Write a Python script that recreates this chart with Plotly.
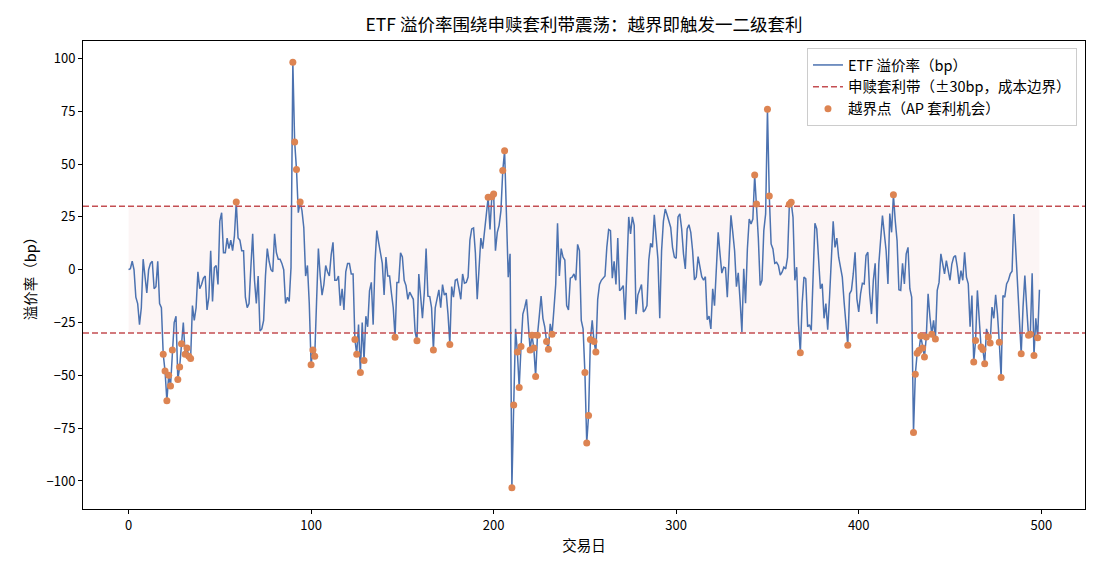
import plotly.graph_objects as go

premium_bp = [
    0, 0.5, 4, 0, -13, -16, -26, -18, 5, -3,
    -11, 0, 3, 4, -9, -8, 4, -16, -18, -40,
    -48, -62, -50, -55, -38, -25, -22, -52, -46, -35,
    -25, -40, -37, -41, -42, -17, -24, -18, -1, -9,
    -7, -4, -3, -19, -13, 9, -15, 1, 2, -7,
    23, 27, 8, 8, 15, 10, 14, 9, 16, 32,
    15, 14, 9, 9, -13, -18, -16, 1, 17, -5,
    -16, -3, -29, -28, -24, -3, 10, 4, 0, -1,
    17, 8, 5, 5, 3, 0, -16, -13, -15, 1,
    98.2, 60.5, 47.5, 27, 32, 28, 20, -3, 2, -16,
    -45, -38, -41, -15, 10, -3, -12, -7, 2, -1,
    -3, 7, 13, -5, -5, -3, -17, -9, -19, -1,
    3, 3, -2, -2, -33, -40, -26, -48.6, -25, -43,
    -22, -27, -10, -6, -26, 3, 18.5, 13, 7, 3,
    -12, 6, -3, -3, -11, -18, -32, -6, -6, 8,
    6, -5, -7.5, -14, -10.6, -12.7, -14, -29.5, -33.6, -2,
    -13, -23, -11, 10, -12.5, -12.7, -18, -38, -18, -14,
    -9.5, -18, -7, -12, -11, -21, -35.4, -8, -13, -5,
    -4.5, -9, -14, -2, -6.4, -6, -3.5, 14, 19.3, 19.8,
    8, -14, 3, 15, 10, 18.5, 26, 34.3, 19, 34.5,
    35.8, 9, 17.7, 21, 28, 47, 56.3, 20, -3.5, 7.5,
    -103.2, -64, -28, -39, -55.8, -36.4, -21, -18, -14, -26,
    -38, -31, -37, -50.5, -31, -22, -12.5, -23, -27, -34,
    -37.7, -25.6, -30.5, -19, -7, 22, -3, 10, 6, 4.6,
    -17, -19, -4, -3.5, -2, -5, 12, 9, -24, -28,
    -48.7, -82, -69, -33, -24, -34, -39, -14, -7, -5,
    -4, -3, 10.6, 19, 18.5, -4, 4, -7, 15, -10,
    -9, -7.5, -23.7, 3, 25, 17, 25, 21, -21, -12,
    -9, -7, -20, -19, -17, 4.6, 12.5, 10.6, 26, 16,
    5, -23, 9, 23, 28.7, 26, 23, 20, 10.6, 6,
    5.4, 25, 26.4, 19.3, 7.5, 0.4, 19.3, 21.3, 17.7, 9,
    -4.8, -3.5, 6.2, 0.4, -3.3, -5, -3.3, -23.7, -22, -28,
    -9, -17, 0.4, 17.7, 7.5, -1.6, 1.2, 0.9, -13, 3.5,
    25.8, 17.7, 9, -8, -1.5, -14.6, -29.5, 0.4, -15.8, 9.8,
    24, 21.7, 24, 44.8, 31.1, 15, -7.5, -5, 18.5, 26.4,
    76, 34.9, 12.2, 9.8, 3, 3.5, 2, -2.5, -1.2, 1.2,
    0.4, 5.9, 31, 31.9, 24.8, -5, 1.2, -25.6, -39.3, -16,
    -3.5, -4.3, -27, -26, -28.7, -3.5, 22, 19.3, 2.7, -9,
    -6.7, -23, -16, -28.4, -13, 5.9, 22.9, 10.6, 15, 5.9,
    1.2, -3.5, -15.4, -25.6, -35.8, -11.4, -9.8, -2, 8.3, -13.8,
    -20, -11.4, -6.4, -6.7, 6.7, 8.3, -11.4, -21, -5, 3,
    -25.6, 2.7, 13.8, 25.6, 17.2, 9, -6.7, 26.6, 17.7, 35.5,
    23.2, 13.8, -9.5, -9.8, 3, -6.7, 7.5, 10.6, -9, -13,
    -77, -49.5, -39.5, -38.2, -31.4, -37, -41.3, -31.9, -11.4, -22.4,
    -30.5, -24, -32.8, -9.8, -6, 7.5, 2.7, -2, 4.3, 0.4,
    -5, 2.7, 5.9, 6.7, 1.2, -6.7, -0.4, -5, 8.3, -3.5,
    -6.7, -27, -12.2, -43.7, -33.5, -9.8, -22.4, -36.6, -37.8, -44.5,
    -28, -31.9, -34.7, -17.7, -23, -11.9, -21, -34.3, -51, -12.2,
    -13, -6.7, -5, -2, -0.7, 26.4, 9, -9.8, -21, -39.8,
    -17.7, -2.8, -17.7, -31, -30.5, -1.7, -40.6, -23, -32.2, -9.5,
]
days = list(range(len(premium_bp)))
band_bp = 30

title = "ETF 溢价率围绕申赎套利带震荡：越界即触发一二级套利"
x_title = "交易日"
y_title = "溢价率（bp）"
name_line = "ETF 溢价率（bp）"
name_band = "申赎套利带（±30bp，成本边界）"
name_pts = "越界点（AP 套利机会）"

BLUE = "#4c72b0"
RED = "#c44e52"
ORANGE = "#dd8452"
FONT = "Noto Sans CJK SC, Noto Sans, DejaVu Sans, sans-serif"

xpad = (days[-1] - days[0]) * 0.05
xr = [days[0] - xpad, days[-1] + xpad]
ymin, ymax = min(premium_bp), max(premium_bp)
ypad = (ymax - ymin) * 0.05
yr = [ymin - ypad, ymax + ypad]

out_x = [d for d, v in zip(days, premium_bp) if abs(v) > band_bp]
out_y = [v for v in premium_bp if abs(v) > band_bp]

fig = go.Figure()
fig.add_shape(type="rect", xref="x", yref="y", x0=days[0], x1=days[-1],
              y0=-band_bp, y1=band_bp, fillcolor="rgba(196,78,82,0.06)",
              line_width=0, layer="below")
fig.add_trace(go.Scatter(x=days, y=premium_bp, mode="lines", name=name_line,
                         line=dict(color=BLUE, width=1.5)))
fig.add_trace(go.Scatter(x=xr, y=[band_bp, band_bp], mode="lines", name=name_band,
                         line=dict(color=RED, width=1.5, dash="6px,3px")))
fig.add_trace(go.Scatter(x=xr, y=[-band_bp, -band_bp], mode="lines", showlegend=False,
                         line=dict(color=RED, width=1.5, dash="6px,3px")))
fig.add_trace(go.Scatter(x=out_x, y=out_y, mode="markers", name=name_pts,
                         marker=dict(color=ORANGE, size=7, line_width=0)))

axis_common = dict(showline=True, linecolor="black", linewidth=1, mirror=True,
                   ticks="outside", ticklen=4, tickcolor="black", showgrid=False,
                   zeroline=False, tickfont=dict(size=13, color="black"))
fig.update_xaxes(range=xr, tickvals=[0, 100, 200, 300, 400, 500],
                 title=dict(text=x_title, font=dict(size=14.5, color="black"), standoff=8),
                 **axis_common)
fig.update_yaxes(range=yr, tickvals=[-100, -75, -50, -25, 0, 25, 50, 75, 100],
                 title=dict(text=y_title, font=dict(size=14.5, color="black"), standoff=6),
                 **axis_common)
fig.update_layout(
    width=1100, height=572,
    margin=dict(l=83, r=15, t=41, b=63),
    paper_bgcolor="white", plot_bgcolor="white",
    font=dict(family=FONT, size=13, color="black"),
    title=dict(text=title, xref="paper", x=0.5, xanchor="center",
               yref="container", y=0.957, yanchor="middle",
               font=dict(size=17.5, color="black")),
    legend=dict(x=0.992, y=0.985, xanchor="right", yanchor="top",
                bgcolor="rgba(255,255,255,0.85)", bordercolor="#cccccc", borderwidth=1,
                font=dict(size=14.5), tracegroupgap=2),
    showlegend=True,
)
fig.write_html("out.html")
